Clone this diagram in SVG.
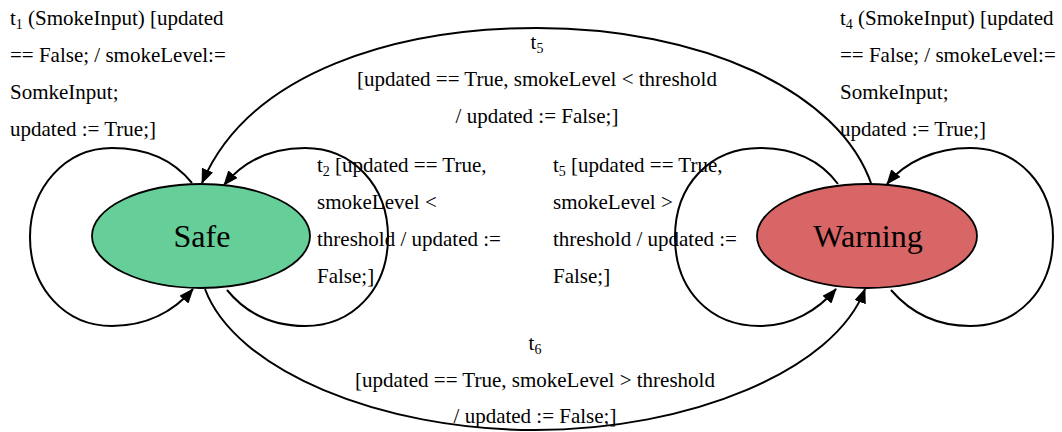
<svg xmlns="http://www.w3.org/2000/svg" width="1062" height="432" viewBox="0 0 1062 432">
  <defs>
    <marker id="arrow" markerUnits="userSpaceOnUse" viewBox="0 0 15 12" refX="14" refY="6" markerWidth="15" markerHeight="12" orient="auto">
      <path d="M0,0 L15,6 L0,12 z" fill="#000"/>
    </marker>
  </defs>
  <style>
    .edge { fill: none; stroke: #000; stroke-width: 2; marker-end: url(#arrow); }
    .state { stroke: #000; stroke-width: 1.8; }
    .name { font-family: "Liberation Serif", "DejaVu Serif", serif; font-size: 32px; fill: #000; text-anchor: middle; }
    .lbl { font-family: "Liberation Serif", "DejaVu Serif", serif; font-size: 21px; fill: #000; }
    .mid { text-anchor: middle; }
    .sub { font-size: 14px; }
  </style>
  <rect width="1062" height="432" fill="#fff"/>

  <!-- transitions -->
  <g id="connectors">
    <g id="t1">
      <path class="edge" d="M192,183 C175,162 150,148 112,148 C65,148 30,188 30,237 C30,288 65,326 112,326 C148,326 175,310 193,289"/>
      <text class="lbl" x="10" y="25">t<tspan class="sub" dy="4">1</tspan><tspan dy="-4"> (SmokeInput) [updated</tspan></text>
      <text class="lbl" x="10" y="62">== False; / smokeLevel:=</text>
      <text class="lbl" x="10" y="99">SomkeInput;</text>
      <text class="lbl" x="10" y="136">updated := True;]</text>
    </g>
    <g id="t2">
      <path class="edge" d="M227,290 C245,312 270,326 305,326 C352,326 388,290 388,237 C388,185 352,148 305,148 C270,148 243,162 224,185"/>
      <text class="lbl" x="317" y="172">t<tspan class="sub" dy="4">2</tspan><tspan dy="-4"> [updated == True,</tspan></text>
      <text class="lbl" x="317" y="209">smokeLevel &lt;</text>
      <text class="lbl" x="317" y="246">threshold / updated :=</text>
      <text class="lbl" x="317" y="283">False;]</text>
    </g>
    <g id="t5-back">
      <path class="edge" d="M872,186 C840,90 700,28 537,28 C400,28 250,70 202,183"/>
      <text class="lbl mid" x="537" y="49">t<tspan class="sub" dy="4">5</tspan></text>
      <text class="lbl mid" x="537" y="86">[updated == True, smokeLevel &lt; threshold</text>
      <text class="lbl mid" x="537" y="123">/ updated := False;]</text>
    </g>
    <g id="t5-stay">
      <path class="edge" d="M838,184 C820,160 795,148 760,148 C710,148 675,185 675,237 C675,290 710,326 760,326 C792,326 818,310 836,289"/>
      <text class="lbl" x="553" y="172">t<tspan class="sub" dy="4">5</tspan><tspan dy="-4"> [updated == True,</tspan></text>
      <text class="lbl" x="553" y="209">smokeLevel &gt;</text>
      <text class="lbl" x="553" y="246">threshold / updated :=</text>
      <text class="lbl" x="553" y="283">False;]</text>
    </g>
    <g id="t4">
      <path class="edge" d="M891,290 C910,312 935,326 970,326 C1018,326 1053,290 1053,237 C1053,185 1018,148 970,148 C935,148 905,162 887,184"/>
      <text class="lbl" x="840" y="25">t<tspan class="sub" dy="4">4</tspan><tspan dy="-4"> (SmokeInput) [updated</tspan></text>
      <text class="lbl" x="840" y="62">== False; / smokeLevel:=</text>
      <text class="lbl" x="840" y="99">SomkeInput;</text>
      <text class="lbl" x="840" y="136">updated := True;]</text>
    </g>
    <g id="t6">
      <path class="edge" d="M205,289 C235,370 380,430 535,430 C690,430 835,370 865,289"/>
      <text class="lbl mid" x="535" y="350">t<tspan class="sub" dy="4">6</tspan></text>
      <text class="lbl mid" x="535" y="387">[updated == True, smokeLevel &gt; threshold</text>
      <text class="lbl mid" x="535" y="423">/ updated := False;]</text>
    </g>
  </g>

  <!-- states -->
  <g id="safe">
    <ellipse class="state" cx="201" cy="236" rx="109" ry="52" fill="#66CE98"/>
    <text class="name" x="202" y="247">Safe</text>
  </g>
  <g id="warning">
    <ellipse class="state" cx="867" cy="236" rx="110" ry="52" fill="#D96666"/>
    <text class="name" x="868" y="247">Warning</text>
  </g>
</svg>
